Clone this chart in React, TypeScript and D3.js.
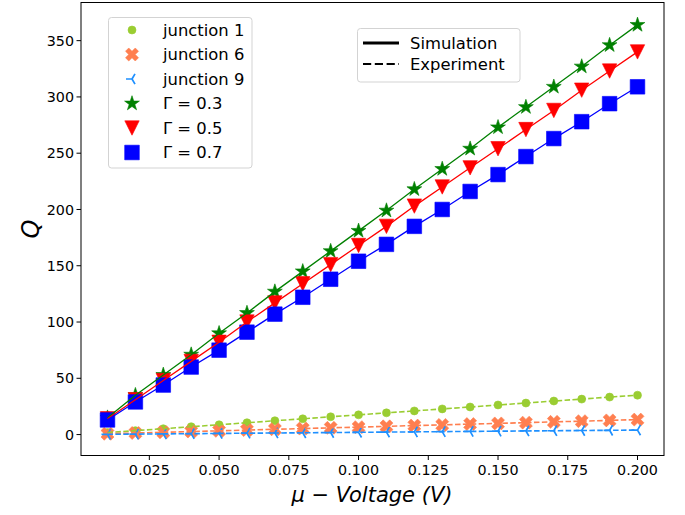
import React from "react";
import * as d3 from "d3";

// Applied voltage (V)
const voltage = [0.01, 0.02, 0.03, 0.04, 0.05, 0.06, 0.07, 0.08, 0.09, 0.1, 0.11, 0.12, 0.13, 0.14, 0.15, 0.16, 0.17, 0.18, 0.19, 0.2];

// Measured junction data (dashed)
const junction1 = [1.8, 3.5, 5.2, 7.0, 8.7, 10.5, 12.3, 14.0, 15.8, 17.5, 19.3, 21.0, 22.8, 24.5, 26.3, 28.0, 29.8, 31.5, 33.3, 35.0];
const junction6 = [0.7, 1.4, 2.0, 2.7, 3.3, 4.0, 4.7, 5.3, 6.0, 6.6, 7.3, 8.0, 8.6, 9.3, 9.9, 10.6, 11.3, 11.9, 12.6, 13.3];
const junction9 = [0.2, 0.4, 0.6, 0.8, 1.0, 1.2, 1.4, 1.6, 1.8, 2.0, 2.2, 2.4, 2.6, 2.8, 3.0, 3.2, 3.4, 3.6, 3.8, 4.0];

// Simulated data (solid)
const gamma03 = [15, 35, 53, 71, 90, 108, 127, 145, 163, 181, 199, 218, 236, 254, 273, 291, 309, 327, 346, 364];
const gamma05 = [14, 31, 48, 65, 82, 100, 117, 134, 151, 168, 185, 203, 220, 237, 254, 271, 288, 306, 323, 340];
const gamma07 = [13, 29, 44, 60, 75, 91, 107, 122, 138, 154, 169, 185, 200, 216, 231, 247, 263, 278, 294, 309];

const xTicks = [0.025, 0.05, 0.075, 0.1, 0.125, 0.15, 0.175, 0.2];
const yTicks = [0, 50, 100, 150, 200, 250, 300, 350];

const seriesLabels = ["junction 1", "junction 6", "junction 9", "Γ = 0.3", "Γ = 0.5", "Γ = 0.7"];
const styleLabels = ["Simulation", "Experiment"];

type MarkerKind = "circle" | "xfilled" | "trileft" | "star" | "tridown" | "square";

const FONT = "'DejaVu Sans', sans-serif";

function markerPath(kind: MarkerKind): string {
  switch (kind) {
    case "circle": {
      const r = 4;
      return `M${r},0A${r},${r},0,1,1,${-r},0A${r},${r},0,1,1,${r},0Z`;
    }
    case "xfilled": {
      // plus shape rotated 45 degrees
      const s = 2.3;
      const pts: [number, number][] = [
        [-1, -3], [1, -3], [1, -1], [3, -1], [3, 1], [1, 1],
        [1, 3], [-1, 3], [-1, 1], [-3, 1], [-3, -1], [-1, -1],
      ];
      const c = Math.SQRT1_2;
      const rot = pts.map(([px, py]) => [(px * c - py * c) * s, (px * c + py * c) * s]);
      return "M" + rot.map((p) => `${p[0].toFixed(2)},${p[1].toFixed(2)}`).join("L") + "Z";
    }
    case "trileft": {
      const r = 6;
      const a = r * 0.5;
      const b = r * 0.866;
      return `M0,0L${-r},0M0,0L${a},${-b}M0,0L${a},${b}`;
    }
    case "star": {
      const R = 7.8;
      const rin = R * 0.381966;
      const pts: string[] = [];
      for (let i = 0; i < 10; i++) {
        const ang = -Math.PI / 2 + (i * Math.PI) / 5;
        const rr = i % 2 === 0 ? R : rin;
        pts.push(`${(rr * Math.cos(ang)).toFixed(2)},${(rr * Math.sin(ang)).toFixed(2)}`);
      }
      return "M" + pts.join("L") + "Z";
    }
    case "tridown": {
      const h = 7.2;
      return `M0,${h}L${-h},${-h}L${h},${-h}Z`;
    }
    case "square": {
      const h = 7.3;
      return `M${-h},${-h}L${h},${-h}L${h},${h}L${-h},${h}Z`;
    }
  }
}

const series = [
  { values: junction1, color: "#9acd32", marker: "circle" as MarkerKind, dashed: true },
  { values: junction6, color: "#ff7f50", marker: "xfilled" as MarkerKind, dashed: true },
  { values: junction9, color: "#1e90ff", marker: "trileft" as MarkerKind, dashed: true },
  { values: gamma03, color: "#008000", marker: "star" as MarkerKind, dashed: false },
  { values: gamma05, color: "#ff0000", marker: "tridown" as MarkerKind, dashed: false },
  { values: gamma07, color: "#0000ff", marker: "square" as MarkerKind, dashed: false },
];

function Marker({ kind, color, x, y }: { kind: MarkerKind; color: string; x: number; y: number }) {
  const d = markerPath(kind);
  if (kind === "trileft") {
    return <path d={d} transform={`translate(${x},${y})`} fill="none" stroke={color} strokeWidth={1.7} />;
  }
  return <path d={d} transform={`translate(${x},${y})`} fill={color} stroke={color} strokeWidth={0.6} />;
}

export default function App() {
  const width = 685;
  const height = 515;
  const left = 81;
  const right = 664;
  const top = 2.5;
  const bottom = 455.5;

  const x = d3.scaleLinear().domain([0.0005, 0.2095]).range([left, right]);
  const y = d3.scaleLinear().domain([-18.6, 383.9]).range([bottom, top]);

  const line = (vals: number[]) =>
    d3.line<number>().x((_, i) => x(voltage[i])).y((v) => y(v))(vals) || "";

  const fmtX = d3.format(".3f");

  return (
    <svg
      width={width}
      height={height}
      style={{ position: "absolute", left: 0, top: 0, background: "#fff" }}
      fontFamily={FONT}
    >
      <rect x={0} y={0} width={width} height={height} fill="#fff" />

      {/* markers */}
      {series.map((s, si) => (
        <g key={`m${si}`}>
          {s.values.map((v, i) => (
            <Marker key={i} kind={s.marker} color={s.color} x={x(voltage[i])} y={y(v)} />
          ))}
        </g>
      ))}

      {/* connecting lines */}
      {series.map((s, si) => (
        <path
          key={`l${si}`}
          d={line(s.values)}
          fill="none"
          stroke={s.color}
          strokeWidth={s.dashed ? 1.6 : 1.3}
          strokeDasharray={s.dashed ? "5.5,2.4" : undefined}
        />
      ))}

      {/* frame */}
      <rect x={left} y={top} width={right - left} height={bottom - top} fill="none" stroke="#000" strokeWidth={1} />

      {/* x axis */}
      {xTicks.map((t) => (
        <g key={`xt${t}`}>
          <line x1={x(t)} x2={x(t)} y1={bottom} y2={bottom + 4.5} stroke="#000" strokeWidth={1} />
          <text x={x(t)} y={475} textAnchor="middle" fontSize={14.3} fill="#000">
            {fmtX(t)}
          </text>
        </g>
      ))}

      {/* y axis */}
      {yTicks.map((t) => (
        <g key={`yt${t}`}>
          <line x1={left - 4.5} x2={left} y1={y(t)} y2={y(t)} stroke="#000" strokeWidth={1} />
          <text x={74} y={y(t) + 5.2} textAnchor="end" fontSize={14.3} fill="#000">
            {t}
          </text>
        </g>
      ))}

      {/* axis titles */}
      <text x={372} y={502} textAnchor="middle" fontSize={21} fontStyle="italic" fill="#000">
        μ − Voltage (V)
      </text>
      <text
        transform={`translate(39,${(top + bottom) / 2}) rotate(-90)`}
        textAnchor="middle"
        fontSize={24}
        fontStyle="italic"
        fill="#000"
      >
        Q
      </text>

      {/* series legend */}
      <rect x={108.5} y={17.5} width={143.5} height={150.5} rx={3} fill="#fff" fillOpacity={0.8} stroke="#d3d3d3" strokeWidth={1} />
      {series.map((s, i) => {
        const ry = 30 + i * 24.5;
        return (
          <g key={`lg${i}`}>
            <Marker kind={s.marker} color={s.color} x={132} y={ry} />
            <text x={163} y={ry + 5.8} fontSize={16.4} fill="#000">
              {seriesLabels[i]}
            </text>
          </g>
        );
      })}

      {/* line style legend */}
      <rect x={357.5} y={28.5} width={162.5} height={53.5} rx={3} fill="#fff" fillOpacity={0.8} stroke="#d3d3d3" strokeWidth={1} />
      {styleLabels.map((lab, i) => {
        const ry = 43 + i * 21;
        return (
          <g key={`ls${i}`}>
            <line
              x1={363}
              x2={399}
              y1={ry}
              y2={ry}
              stroke="#000"
              strokeWidth={i === 0 ? 2.8 : 2.2}
              strokeDasharray={i === 0 ? undefined : "8.2,3.6"}
            />
            <text x={410} y={ry + 5.8} fontSize={16.4} fill="#000">
              {lab}
            </text>
          </g>
        );
      })}
    </svg>
  );
}
